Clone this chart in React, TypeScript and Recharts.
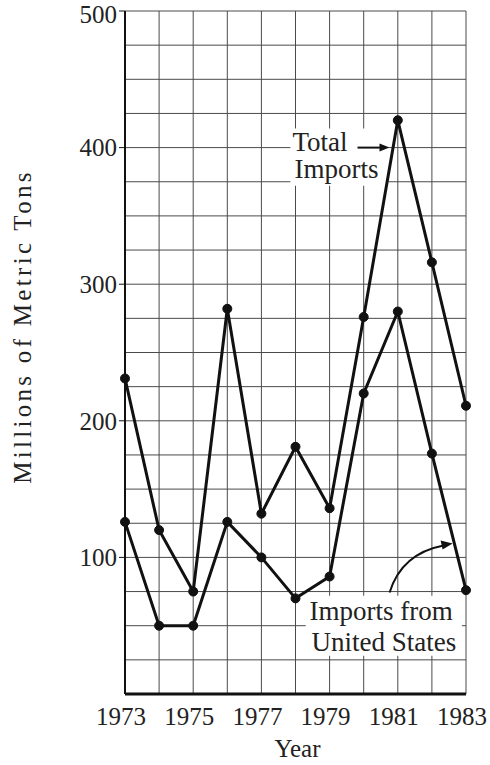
import React from 'react';
import {
  LineChart,
  Line,
  XAxis,
  YAxis,
  CartesianGrid,
  ReferenceArea,
  ReferenceDot
} from 'recharts';

// data
const years = [1973, 1974, 1975, 1976, 1977, 1978, 1979, 1980, 1981, 1982, 1983];
const totalImports = [231, 120, 75, 282, 132, 181, 136, 276, 420, 316, 211];
const usImports = [126, 50, 50, 126, 100, 70, 86, 220, 280, 176, 76];

const xLabels = [1973, 1975, 1977, 1979, 1981, 1983];
const yTicks = [100, 200, 300, 400, 500];
const gridValues = [0, 25, 50, 75, 100, 125, 150, 175, 200, 225, 250, 275, 300, 325, 350, 375, 400, 425, 450, 475, 500];

const data = years.map((year, i) => ({
  year,
  total: totalImports[i],
  us: usImports[i]
}));

const FONT = '"Liberation Serif", "Times New Roman", serif';

// only every other year carries a label, but every year gets a grid line
const YearTick = ({ x, y, payload }: any) => {
  if (!xLabels.includes(payload.value)) return null;
  return (
    <text x={x - 4} y={y + 23} textAnchor="middle" fontFamily={FONT} fontSize={25} fill="#222">
      {payload.value}
    </text>
  );
};

const TotalNote = ({ cx, cy }: any) => (
  <g>
    <text x={cx - 3} y={cy + 3} fontFamily={FONT} fontSize={27} fill="#222">Total</text>
    <text x={cx - 1} y={cy + 30} fontFamily={FONT} fontSize={27} fill="#222">Imports</text>
    <line x1={cx + 62} y1={cy} x2={cx + 88} y2={cy} stroke="#111" strokeWidth={2} />
    <path d={`M${cx + 94},${cy} L${cx + 84},${cy - 4} L${cx + 84},${cy + 4} Z`} fill="#111" />
  </g>
);

const UsNote = ({ cx, cy }: any) => (
  <g>
    <text x={cx - 20} y={cy + 28} fontFamily={FONT} fontSize={27} fill="#222">Imports from</text>
    <text x={cx - 18} y={cy + 59} fontFamily={FONT} fontSize={27} fill="#222">United States</text>
    <path d={`M${cx + 60},${cy + 1} Q${cx + 72},${cy - 38} ${cx + 114},${cy - 46}`} stroke="#111" strokeWidth={2} fill="none" />
    <path d={`M${cx + 123},${cy - 48} L${cx + 111},${cy - 51} L${cx + 113},${cy - 42} Z`} fill="#111" />
  </g>
);

const App = () => {
  return (
    <div style={{ position: 'absolute', left: 0, top: 0, background: '#fff' }}>
      <LineChart
        width={490}
        height={765}
        data={data}
        margin={{ top: 11, right: 24, bottom: 0, left: 0 }}
      >
        <CartesianGrid
          stroke="#4a4a4a"
          strokeWidth={1}
          horizontalValues={gridValues}
        />

        <XAxis
          dataKey="year"
          type="number"
          domain={[1973, 1983]}
          ticks={years}
          interval={0}
          height={71}
          axisLine={{ stroke: '#111', strokeWidth: 3 }}
          tickLine={false}
          tick={<YearTick />}
          label={({ viewBox }: any) => (
            <text
              x={viewBox.x + viewBox.width / 2 + 2}
              y={757}
              textAnchor="middle"
              fontFamily={FONT}
              fontSize={25}
              fill="#222"
            >
              Year
            </text>
          )}
        />

        <YAxis
          type="number"
          domain={[0, 500]}
          ticks={yTicks}
          width={125}
          axisLine={{ stroke: '#111', strokeWidth: 2 }}
          tickLine={{ stroke: '#111' }}
          tickSize={6}
          tickMargin={2}
          tick={{ fill: '#222', fontSize: 25, fontFamily: FONT }}
          label={({ viewBox }: any) => (
            <text
              transform={`translate(31, ${viewBox.y + viewBox.height / 2 - 26}) rotate(-90)`}
              textAnchor="middle"
              fontFamily={FONT}
              fontSize={25}
              letterSpacing={3.3}
              fill="#222"
            >
              Millions of Metric Tons
            </text>
          )}
        />

        {/* white patches behind the annotations */}
        <ReferenceArea x1={1977.85} x2={1980.72} y1={372} y2={414} fill="#fff" fillOpacity={1} stroke="none" />
        <ReferenceArea x1={1978.3} x2={1982.88} y1={28} y2={72} fill="#fff" fillOpacity={1} stroke="none" />

        <Line
          type="linear"
          dataKey="total"
          stroke="#111"
          strokeWidth={3}
          dot={{ r: 4.5, fill: '#111', stroke: '#111', strokeWidth: 1 }}
          isAnimationActive={false}
        />
        <Line
          type="linear"
          dataKey="us"
          stroke="#111"
          strokeWidth={3}
          dot={{ r: 4.5, fill: '#111', stroke: '#111', strokeWidth: 1 }}
          isAnimationActive={false}
        />

        <ReferenceDot x={1978} y={400} r={1} shape={(p: any) => <TotalNote cx={p.cx} cy={p.cy} />} />
        <ReferenceDot x={1979} y={75} r={1} shape={(p: any) => <UsNote cx={p.cx} cy={p.cy} />} />
      </LineChart>
    </div>
  );
};

export default App;
